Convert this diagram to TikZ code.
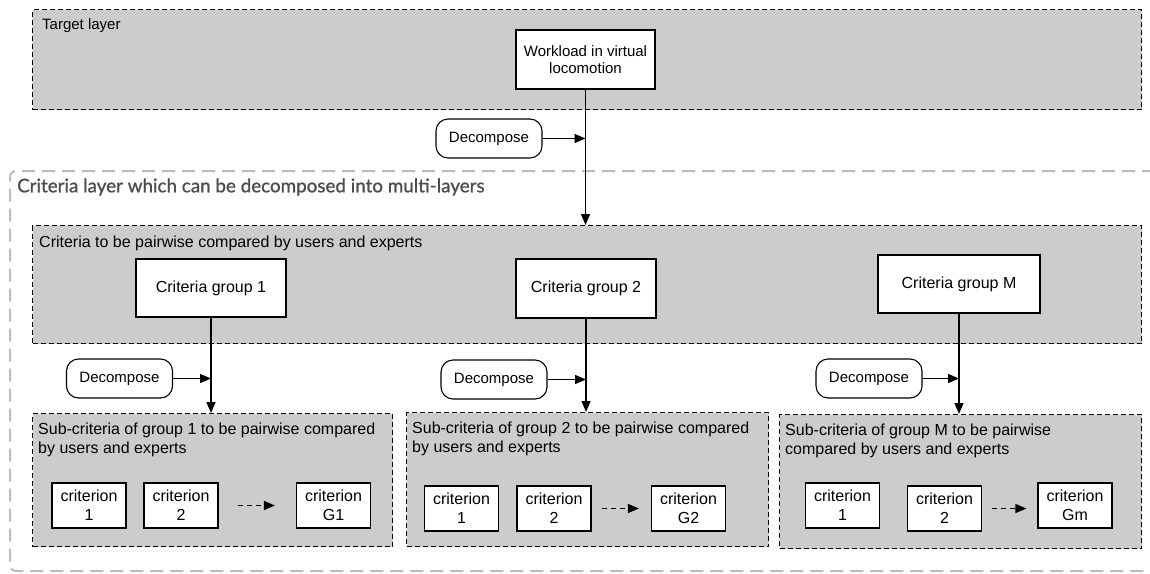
\documentclass[tikz,border=0pt]{standalone}
\usepackage{fontspec}
\setmainfont{Liberation Sans}
\newfontfamily\layerfont[FakeBold=1]{Lato}
\usetikzlibrary{arrows.meta}
\definecolor{layergray}{HTML}{CCCCCC}
\definecolor{outergray}{HTML}{BBBBBB}
\definecolor{labelgray}{HTML}{4D4D4D}

\begin{document}
\begin{tikzpicture}[x=1pt,y=-1pt,
    layer/.style={draw, fill=layergray, dash pattern=on 5pt off 3pt, line width=1.1pt, anchor=north west, inner sep=0pt},
    outer/.style={draw=outergray, line width=2pt, dash pattern=on 13pt off 7pt, rounded corners=6pt, anchor=north west, inner sep=0pt},
    box/.style={draw, fill=white, line width=1.1pt, align=center, inner sep=0pt},
    decomp/.style={draw, fill=white, rounded corners=12pt, line width=1.1pt, minimum width=106pt, minimum height=39pt, font=\fontsize{15}{17}\selectfont},
    crit/.style={box, minimum width=74pt, minimum height=45pt, font=\fontsize{16}{19}\selectfont},
    grp/.style={box, minimum height=58pt, font=\fontsize{16}{19}\selectfont},
    lbl/.style={anchor=north west, inner sep=0pt, align=left, font=\fontsize{16}{19}\selectfont},
    arr/.style={line width=1.3pt, -{Triangle[length=11pt,width=9pt]}},
    darr/.style={arr, dash pattern=on 5pt off 4pt}]

    \useasboundingbox (0,0) rectangle (1150,573);

    % Target layer
    \node[layer, minimum width=1109pt, minimum height=100pt] (target) at (32,9) {};
    \node[lbl, font=\fontsize{15}{18}\selectfont] (targetlbl) at ([xshift=10pt,yshift=-9pt]target.north west) {Target layer};
    \node[box, minimum width=139pt, minimum height=59pt, font=\fontsize{15}{17}\selectfont] (work) at (585.5,59.5) {Workload in virtual\\locomotion};

    % Criteria layer (runs off the right edge)
    \node[outer, minimum width=1191pt, minimum height=400pt] (critlayer) at (9,170) {};
    \node[anchor=west, inner sep=0pt, text=labelgray, font=\layerfont\fontsize{18.8}{22}\selectfont] (critlayerlbl) at (17,187) {Criteria layer which can be decomposed into multi-layers};

    % Criteria compared by users and experts
    \node[layer, minimum width=1109pt, minimum height=118pt] (critbox) at (32,225) {};
    \node[lbl] (critlbl) at ([xshift=7pt,yshift=-11pt]critbox.north west) {Criteria to be pairwise compared by users and experts};

    \node[grp, minimum width=150pt] (grp1) at (211,288) {Criteria group 1};
    \node[grp, minimum width=140pt, minimum height=59pt] (grp2) at (586,288.5) {Criteria group 2};
    \node[grp, minimum width=162pt] (grpM) at (959,284) {Criteria group M};

    % Sub-criteria boxes
    \node[layer, minimum width=360pt, minimum height=133pt] (sub1) at (32,413) {};
    \node[lbl] (sub1lbl) at ([xshift=6pt,yshift=-10pt]sub1.north west) {Sub-criteria of group 1 to be pairwise compared\\by users and experts};

    \node[layer, minimum width=362pt, minimum height=134pt] (sub2) at (406,412) {};
    \node[lbl] (sub2lbl) at ([xshift=6pt,yshift=-10pt]sub2.north west) {Sub-criteria of group 2 to be pairwise compared\\by users and experts};

    \node[layer, minimum width=362pt, minimum height=134pt] (subM) at (779,414) {};
    \node[lbl] (subMlbl) at ([xshift=6pt,yshift=-10pt]subM.north west) {Sub-criteria of group M to be pairwise\\compared by users and experts};

    % Criteria inside the sub-criteria boxes
    \foreach \n/\x/\y/\t in {c11/89/505.5/1, c12/181/505.5/2, c1g/333.5/505.5/G1,
                             c21/461.5/508.5/1, c22/554/508.5/2, c2g/688.5/508.5/G2,
                             c31/842.5/505.5/1, c32/944.5/508.5/2, c3g/1075/505.5/Gm} {
        \node[crit] (\n) at (\x,\y) {criterion\\\t};
    }

    \draw[darr, shorten <=19pt, shorten >=21pt] (c12.east) -- (c12.east -| c1g.west);
    \draw[darr, shorten <=10pt, shorten >=12pt] (c22.east) -- (c22.east -| c2g.west);
    \draw[darr, shorten <=10pt, shorten >=11pt] (c32.east) -- (c32.east -| c3g.west);

    % Decompose steps
    \node[decomp] (dec0) at (489,138.5) {Decompose};
    \node[decomp] (dec1) at (119.5,378.5) {Decompose};
    \node[decomp] (dec2) at (494,379.5) {Decompose};
    \node[decomp] (decM) at (869,378.5) {Decompose};

    \draw[arr] (work.south) -- (work.south |- critbox.north);
    \draw[arr] (dec0.east) -- (dec0.east -| work.south);

    \foreach \g/\s/\d in {grp1/sub1/dec1, grp2/sub2/dec2, grpM/subM/decM} {
        \draw[arr] (\g.south) -- (\g.south |- \s.north);
        \draw[arr] (\d.east) -- (\d.east -| \g.south);
    }

\end{tikzpicture}
\end{document}
